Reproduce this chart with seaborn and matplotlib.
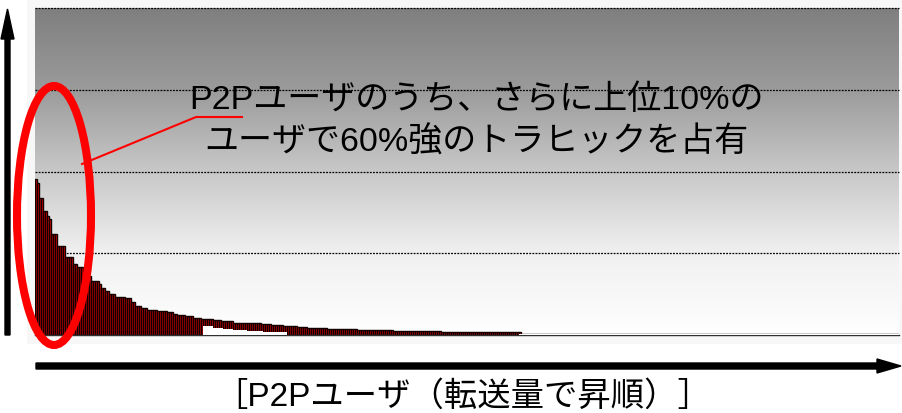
import numpy as np
import pandas as pd
import matplotlib
matplotlib.use("Agg")
import matplotlib.pyplot as plt
import seaborn as sns
from matplotlib.patches import Ellipse, FancyArrow, Rectangle
from matplotlib.lines import Line2D
from matplotlib.transforms import IdentityTransform
from matplotlib.colors import LinearSegmentedColormap

# ---- data (run-length; y axis: 4 grid steps of 100) ----
red_levels = [190.8, 185.9, 167.0, 151.7, 145.6, 141.9, 123.5, 108.9, 95.4, 86.9,
              83.2, 72.2, 66.1, 62.4, 57.5, 53.8, 50.2, 46.5, 45.3, 40.4,
              35.5, 33.0, 30.6, 29.4, 28.1, 25.7, 24.5, 23.2, 20.8, 19.6,
              18.3, 17.1, 14.7, 13.5, 12.2, 11.0, 9.8, 8.6, 7.3, 6.1,
              4.9, 3.7, 1.8]
red_counts = [1, 1, 2, 2, 1, 1, 3, 4, 4, 2,
              3, 4, 4, 1, 2, 2, 3, 5, 3, 2,
              3, 3, 5, 5, 3, 2, 4, 4, 4, 6,
              4, 6, 14, 5, 6, 7, 5, 10, 15, 18,
              24, 40, 189]
white_levels = [0, 11.0, 8.6, 7.3, 6.1, 4.9, 3.7, 0, 0.8]
white_counts = [84, 5, 5, 5, 7, 8, 12, 116, 190]

grid_levels = [100, 200, 300, 400]
annot_line1 = "P2Pユーザのうち、さらに上位10%の"
annot_line2 = "ユーザで60%強のトラヒックを占有"
x_label = "［P2Pユーザ（転送量で昇順）］"

red = np.repeat(red_levels, red_counts)
white = np.repeat(white_levels, white_counts)
n = len(red)
df = pd.DataFrame({"user": np.arange(n), "red": red, "white": white})

plt.rcParams["font.family"] = ["Liberation Sans", "Noto Sans CJK JP", "DejaVu Sans"]

W, H = 903, 414
fig = plt.figure(figsize=(W / 100, H / 100), dpi=100)
fig.patch.set_facecolor("white")
ID = IdentityTransform()

fig.add_artist(Rectangle((27, H - 345), W - 27, 345, transform=ID,
                         facecolor="#f7f7f7", edgecolor="none", zorder=-1))

ax = fig.add_axes([35 / W, (H - 336) / H, 864 / W, 327 / H])

cmap = LinearSegmentedColormap.from_list(
    "bg", [(0.0, "#ffffff"), (0.25, "#f0f0f0"), (0.5, "#c8c8c8"),
           (0.75, "#9b9b9b"), (1.0, "#7f7f7f")])
grad = np.linspace(0, 1, 256).reshape(-1, 1)
ax.imshow(grad, extent=(-0.5, n - 0.5, 0, 400), aspect="auto", cmap=cmap,
          origin="lower", zorder=0, vmin=0, vmax=1)

for g in grid_levels:
    ax.axhline(g, color="black", lw=0.9, ls=(0, (1.5, 1)), zorder=1, clip_on=False)

sns.barplot(data=df, x="user", y="red", color="red", saturation=1,
            edgecolor="#100000", linewidth=1.0, width=1.0, errorbar=None,
            ax=ax, zorder=2)
sns.barplot(data=df, x="user", y="white", color="white", saturation=1,
            edgecolor="none", linewidth=0, width=1.0, errorbar=None,
            ax=ax, zorder=3)

ax.set_xlim(-0.5, n - 0.5)
ax.set_ylim(0, 400)
ax.set_xticks([])
ax.set_yticks([])
ax.set_xlabel("")
ax.set_ylabel("")
for s in ["top", "left", "right"]:
    ax.spines[s].set_visible(False)
ax.spines["bottom"].set_color("#303030")
ax.spines["bottom"].set_linewidth(1.0)

# annotation text and pointer
fig.text(476, H - 100, annot_line1, transform=ID, ha="center", va="center",
         fontsize=24.5, color="black", zorder=6)
fig.text(476, H - 143, annot_line2, transform=ID, ha="center", va="center",
         fontsize=24.5, color="black", zorder=6)
fig.add_artist(Line2D([82, 196, 242], [H - 165, H - 118, H - 118], transform=ID,
                      color="red", lw=1.5, zorder=6))

# red ellipse
fig.add_artist(Ellipse((54, H - 216.5), 74, 259, transform=ID, fill=False,
                       edgecolor="red", lw=5.8, zorder=7))

# axis arrows
fig.add_artist(FancyArrow(7.5, H - 336, 0, 336 - 10, width=5, head_width=13,
                          head_length=30, length_includes_head=True,
                          color="black", transform=ID, zorder=6))
fig.add_artist(FancyArrow(36, H - 367, 901 - 36, 0, width=6, head_width=14,
                          head_length=24, length_includes_head=True,
                          color="black", transform=ID, zorder=6))

fig.text(463, H - 397, x_label, transform=ID, ha="center", va="center",
         fontsize=24, color="black")

fig.savefig("out.png", dpi=100)
